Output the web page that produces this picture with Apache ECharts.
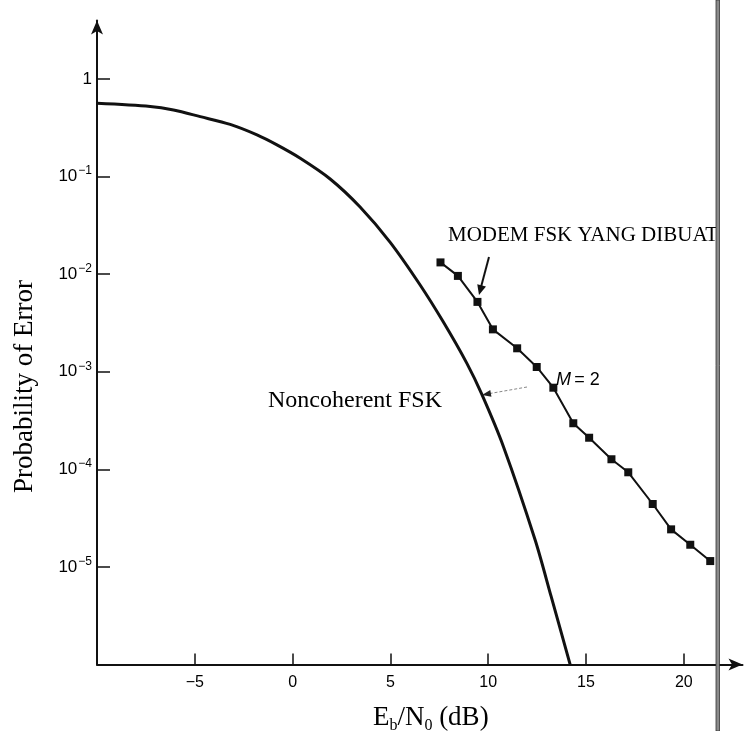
<!DOCTYPE html>
<html>
<head>
<meta charset="utf-8">
<script src="https://cdn.jsdelivr.net/npm/echarts@6/dist/echarts.min.js"></script>
<style>
  html, body { margin: 0; padding: 0; background: #fff; }
  #chart { width: 749px; height: 731px; }
</style>
</head>
<body>
<div id="chart"></div>
<script>
// Theoretical noncoherent FSK curve (Eb/N0 in dB, probability of bit error)
const theoryDb = [-10, -7.28, -6.09, -4.72, -3.19, -1.82, -0.80, 0.39, 1.92, 3.45, 4.99,
                  6.52, 7.70, 8.91, 9.67, 10.78, 12.40, 13.21, 14.19];
const theoryPe = [0.564, 0.523, 0.481, 0.411, 0.342, 0.267, 0.211, 0.154, 0.0945, 0.0488, 0.0212,
                  7.75e-3, 3.25e-3, 1.22e-3, 5.9e-4, 1.71e-4, 1.89e-5, 5.05e-6, 1e-6];

// Measured points of the built FSK modem
const modemDb = [7.56, 8.45, 9.45, 10.24, 11.48, 12.48, 13.33, 14.35, 15.16, 16.30, 17.16,
                 18.41, 19.35, 20.33, 21.35];
const modemPe = [1.32e-2, 9.6e-3, 5.2e-3, 2.72e-3, 1.74e-3, 1.12e-3, 6.87e-4, 2.97e-4, 2.11e-4,
                 1.27e-4, 9.34e-5, 4.42e-5, 2.43e-5, 1.69e-5, 1.15e-5];

// Axis ticks
const xTicks = [-5, 0, 5, 10, 15, 20];
const yTicks = [1e-5, 1e-4, 1e-3, 1e-2, 1e-1, 1];

const zip = (a, b) => a.map((v, i) => [v, b[i]]);
const serif = 'Liberation Serif';
const sans = 'Liberation Sans';

// small filled arrowhead polygon with its tip at (tx, ty), pointing along (dx, dy)
function arrowHead(tx, ty, dx, dy, len, half, color) {
  const n = Math.hypot(dx, dy), ux = dx / n, uy = dy / n;
  const bx = tx - ux * len, by = ty - uy * len;
  return {
    type: 'polygon',
    shape: { points: [[tx, ty], [bx + uy * half, by - ux * half], [bx - uy * half, by + ux * half]] },
    style: { fill: color }
  };
}

const chart = echarts.init(document.getElementById('chart'), null, { renderer: 'canvas' });

chart.setOption({
  animation: false,
  backgroundColor: '#fff',
  grid: { left: 97, right: 6.5, top: 20.4, bottom: 66.4, containLabel: false, outerBoundsMode: 'none' },
  xAxis: {
    type: 'value',
    min: -10,
    max: 23,
    interval: 5,
    splitLine: { show: false },
    axisLine: { onZero: false, lineStyle: { color: '#111', width: 2 }, symbol: ['none', 'arrow'], symbolSize: [9, 14] },
    axisTick: { inside: true, length: 11, lineStyle: { color: '#111', width: 1.5 }, customValues: xTicks },
    axisLabel: {
      customValues: xTicks,
      margin: 10,
      color: '#000',
      fontFamily: sans,
      fontSize: 16,
      formatter: v => (v < 0 ? '\u2212' + Math.abs(v) : String(v))
    },
    name: '{n|E}{s|b}{n|/N}{s|0}{n| (dB)}',
    nameLocation: 'middle',
    nameGap: 40,
    nameTextStyle: {
      padding: [0, 0, 0, 22],
      rich: {
        n: { fontFamily: serif, fontSize: 27, lineHeight: 27, color: '#000', verticalAlign: 'top' },
        s: { fontFamily: serif, fontSize: 16, lineHeight: 16, padding: [13, 0, 0, 0], color: '#000', verticalAlign: 'top' }
      }
    }
  },
  yAxis: {
    type: 'log',
    logBase: 10,
    min: 1e-6,
    max: Math.pow(10, 0.6),
    splitLine: { show: false },
    axisLine: { onZero: false, lineStyle: { color: '#111', width: 2 }, symbol: ['none', 'arrow'], symbolSize: [9, 14] },
    axisTick: { inside: true, length: 13, lineStyle: { color: '#111', width: 1.5 }, customValues: yTicks },
    axisLabel: {
      customValues: yTicks,
      margin: 5,
      color: '#000',
      formatter: v => {
        const e = Math.round(Math.log10(v));
        return e === 0 ? '{b|1}' : '{b|10}{s|\u2212' + (-e) + '}';
      },
      rich: {
        b: { fontFamily: sans, fontSize: 17, lineHeight: 17, color: '#000', verticalAlign: 'bottom' },
        s: { fontFamily: sans, fontSize: 12, lineHeight: 12, padding: [0, 0, 8, 1], color: '#000', verticalAlign: 'bottom' }
      }
    },
    name: 'Probability of Error',
    nameLocation: 'middle',
    nameGap: 59,
    nameRotate: 90,
    nameTextStyle: { fontFamily: serif, fontSize: 27, color: '#000', padding: [0, 88, 0, 0] }
  },
  series: [
    {
      name: 'Noncoherent FSK',
      type: 'line',
      data: zip(theoryDb, theoryPe),
      showSymbol: false,
      smooth: 0.3,
      lineStyle: { color: '#111', width: 3 },
      z: 3
    },
    {
      name: 'MODEM FSK YANG DIBUAT',
      type: 'line',
      data: zip(modemDb, modemPe),
      symbol: 'rect',
      symbolSize: 8,
      itemStyle: { color: '#111' },
      lineStyle: { color: '#111', width: 2 },
      z: 4
    }
  ],
  graphic: [
    {
      type: 'text', left: 448, top: 225, z: 10,
      style: { text: 'MODEM FSK YANG DIBUAT', fontFamily: serif, fontSize: 21, fill: '#000' }
    },
    {
      type: 'line', z: 10,
      shape: { x1: 489, y1: 257, x2: 481, y2: 287 },
      style: { stroke: '#111', lineWidth: 2 }
    },
    Object.assign(arrowHead(479, 295, -10, 37, 10, 4.5, '#111'), { z: 10 }),
    {
      type: 'text', left: 556, top: 371, z: 10,
      style: {
        text: '{m|M} {e|= 2}',
        rich: {
          m: { fontFamily: sans, fontStyle: 'italic', fontSize: 18, fill: '#000' },
          e: { fontFamily: sans, fontSize: 18, fill: '#000' }
        }
      }
    },
    {
      type: 'line', z: 10,
      shape: { x1: 527, y1: 387, x2: 490, y2: 393.5 },
      style: { stroke: '#888', lineWidth: 1, lineDash: [3, 2] }
    },
    Object.assign(arrowHead(482, 395, -45, 8, 9, 3.5, '#222'), { z: 10 }),
    {
      type: 'text', left: 268, top: 389, z: 10,
      style: { text: 'Noncoherent FSK', fontFamily: serif, fontSize: 24, fill: '#000' }
    },
    {
      type: 'rect', z: 20,
      shape: { x: 716, y: 0, width: 3.5, height: 731 },
      style: { fill: '#8a8a8a', stroke: '#333', lineWidth: 0.8 }
    }
  ]
});
</script>
</body>
</html>
